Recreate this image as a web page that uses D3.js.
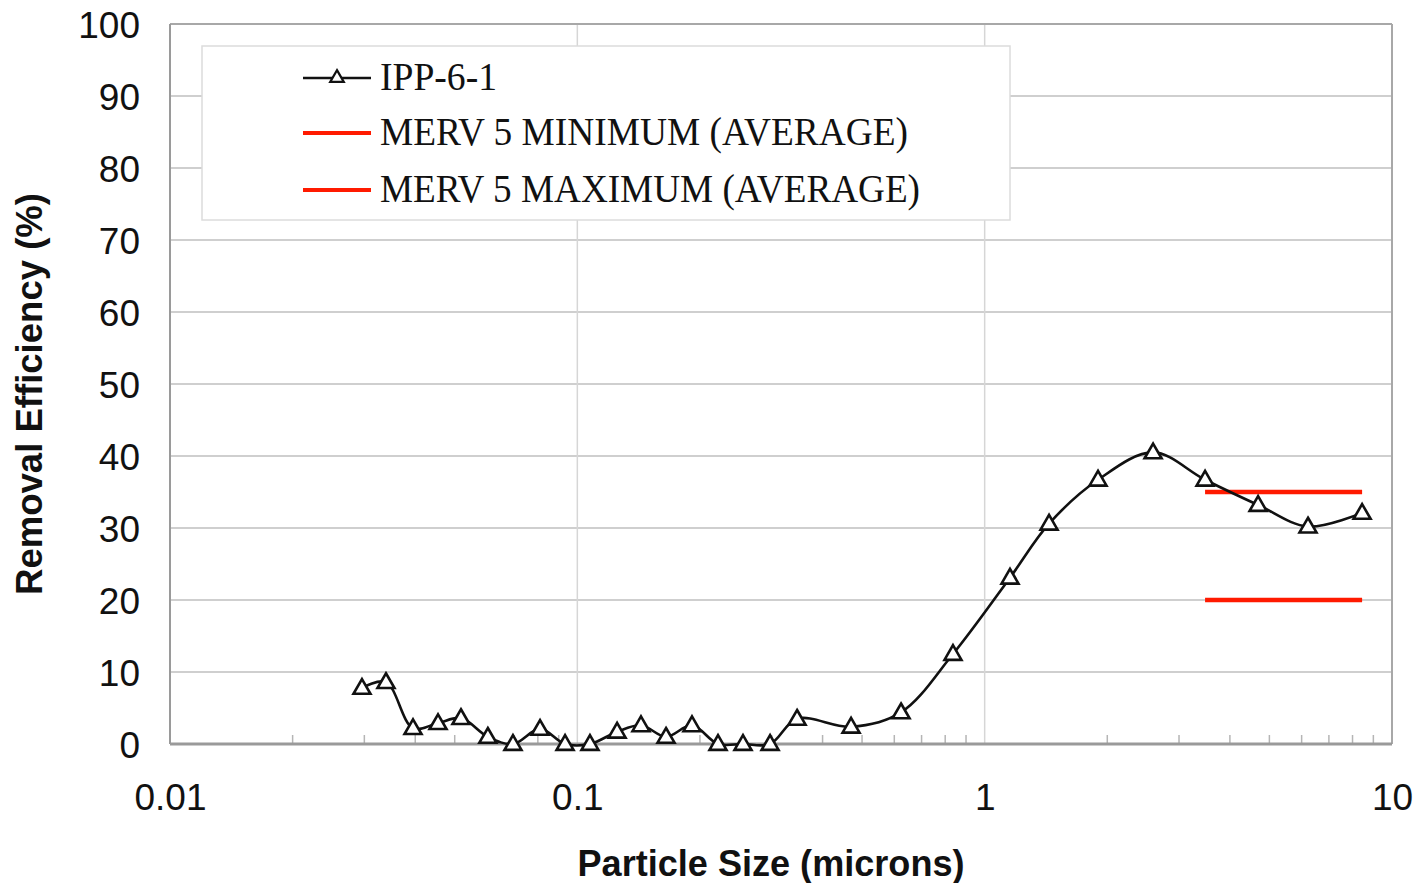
<!DOCTYPE html>
<html>
<head>
<meta charset="utf-8">
<script src="https://cdn.jsdelivr.net/npm/d3@7"></script>
<style>
  html, body { margin: 0; padding: 0; background: #fff; }
  svg { display: block; }
</style>
</head>
<body>
<svg id="chart" width="1418" height="883"></svg>
<script>
// Particle size (microns) and measured removal efficiency (%) for IPP-6-1
const particleSize = [0.0296, 0.0339, 0.0395, 0.0455, 0.0518, 0.0603, 0.0695, 0.081, 0.0933, 0.1074,
  0.1252, 0.1433, 0.1651, 0.1912, 0.2215, 0.2551, 0.2973, 0.3463, 0.4699, 0.6233,
  0.836, 1.154, 1.439, 1.898, 2.591, 3.476, 4.691, 6.22, 8.445];
const efficiency = [7.8, 8.6, 2.2, 2.9, 3.6, 1.0, 0, 2.1, 0, 0,
  1.7, 2.6, 1.0, 2.6, 0, 0, 0, 3.5, 2.4, 4.4,
  12.5, 23.1, 30.6, 36.7, 40.5, 36.7, 33.2, 30.2, 32.1];

// MERV 5 reference levels across the large-particle range
const mervSize = [3.476, 8.445];
const mervMin = [20, 20];
const mervMax = [35, 35];

const yTicks = [0, 10, 20, 30, 40, 50, 60, 70, 80, 90, 100];
const xTicks = [0.01, 0.1, 1, 10];
const xTickLabels = ["0.01", "0.1", "1", "10"];
const legendLabels = ["IPP-6-1", "MERV 5 MINIMUM (AVERAGE)", "MERV 5 MAXIMUM (AVERAGE)"];

const svg = d3.select("#chart");
const m = { left: 170, right: 1392, top: 24, bottom: 744 };

const x = d3.scaleLog().domain([0.01, 10]).range([m.left, m.right]);
const y = d3.scaleLinear().domain([0, 100]).range([m.bottom, m.top]);

const sans = "'Liberation Sans', Arial, sans-serif";
const serif = "'Liberation Serif', 'Times New Roman', serif";

// horizontal gridlines
svg.append("g").selectAll("line").data(yTicks.filter(d => d > 0)).join("line")
  .attr("x1", m.left).attr("x2", m.right)
  .attr("y1", d => y(d)).attr("y2", d => y(d))
  .attr("stroke", "#cfcfcf").attr("stroke-width", 2);

// vertical gridlines at decades
svg.append("g").selectAll("line").data([0.1, 1]).join("line")
  .attr("x1", d => x(d)).attr("x2", d => x(d))
  .attr("y1", m.top).attr("y2", m.bottom)
  .attr("stroke", "#d6d6d6").attr("stroke-width", 1.5);

// plot frame
svg.append("line").attr("x1", m.left).attr("x2", m.right).attr("y1", m.top).attr("y2", m.top)
  .attr("stroke", "#a8a8a8").attr("stroke-width", 2);
svg.append("line").attr("x1", m.right).attr("x2", m.right).attr("y1", m.top).attr("y2", m.bottom)
  .attr("stroke", "#a8a8a8").attr("stroke-width", 2);
svg.append("line").attr("x1", m.left).attr("x2", m.left).attr("y1", m.top).attr("y2", m.bottom)
  .attr("stroke", "#9a9a9a").attr("stroke-width", 2);

// minor ticks on the log axis (pointing inward)
const minor = [];
[0.01, 0.1, 1].forEach(dec => { for (let k = 2; k <= 9; k++) minor.push(dec * k); });
svg.append("g").selectAll("line").data(minor).join("line")
  .attr("x1", d => x(d)).attr("x2", d => x(d))
  .attr("y1", m.bottom).attr("y2", m.bottom - 9)
  .attr("stroke", "#b5b5b5").attr("stroke-width", 1.5);

// bottom axis line
svg.append("line").attr("x1", m.left).attr("x2", m.right).attr("y1", m.bottom).attr("y2", m.bottom)
  .attr("stroke", "#9a9a9a").attr("stroke-width", 3);

// y tick labels
const yAxis = d3.axisLeft(y).tickValues(yTicks).tickSize(0).tickPadding(30).tickFormat(d3.format("d"));
const gy = svg.append("g").attr("transform", `translate(${m.left},0)`).call(yAxis);
gy.select(".domain").remove();
gy.selectAll("text").attr("font-family", sans).attr("font-size", 37).attr("fill", "#111")
  .attr("dy", "0.36em");

// x tick labels
const xAxis = d3.axisBottom(x).tickValues(xTicks).tickSize(0).tickPadding(40)
  .tickFormat((d, i) => xTickLabels[i]);
const gx = svg.append("g").attr("transform", `translate(0,${m.bottom})`).call(xAxis);
gx.select(".domain").remove();
gx.selectAll("text").attr("font-family", sans).attr("font-size", 37).attr("fill", "#111");

// axis titles
svg.append("text").attr("x", 771).attr("y", 876).attr("text-anchor", "middle")
  .attr("font-family", sans).attr("font-weight", "bold").attr("font-size", 36).attr("fill", "#111")
  .attr("textLength", 387).attr("lengthAdjust", "spacingAndGlyphs")
  .text("Particle Size (microns)");
svg.append("text").attr("transform", "translate(42,394) rotate(-90)").attr("text-anchor", "middle")
  .attr("font-family", sans).attr("font-weight", "bold").attr("font-size", 36).attr("fill", "#111")
  .attr("textLength", 402).attr("lengthAdjust", "spacingAndGlyphs")
  .text("Removal Efficiency (%)");

// MERV 5 reference lines
const mervLine = d3.line().x(d => x(d[0])).y(d => y(d[1]));
[mervMin, mervMax].forEach(vals => {
  svg.append("path").datum(mervSize.map((s, i) => [s, vals[i]]))
    .attr("d", mervLine).attr("fill", "none").attr("stroke", "#ff1a00").attr("stroke-width", 4.5);
});

// measured efficiency curve (smoothed)
const pts = particleSize.map((s, i) => [s, efficiency[i]]);
const curve = d3.line().x(d => x(d[0])).y(d => y(d[1])).curve(d3.curveCatmullRom.alpha(0.5));
svg.append("path").datum(pts).attr("d", curve)
  .attr("fill", "none").attr("stroke", "#111").attr("stroke-width", 2.6);

const tri = d3.symbol().type(d3.symbolTriangle).size(125);
svg.append("g").selectAll("path").data(pts).join("path")
  .attr("transform", d => `translate(${x(d[0])},${y(d[1]) + 1})`)
  .attr("d", tri).attr("fill", "#fff").attr("stroke", "#111").attr("stroke-width", 2.6);

// legend
const lg = svg.append("g");
lg.append("rect").attr("x", 202).attr("y", 46).attr("width", 808).attr("height", 174)
  .attr("fill", "#fff").attr("stroke", "#dcdcdc").attr("stroke-width", 1.5);
const rows = [78, 133, 190];
const widths = [117, 528, 540];
legendLabels.forEach((lab, i) => {
  const ry = rows[i];
  lg.append("line").attr("x1", 303).attr("x2", 371).attr("y1", ry).attr("y2", ry)
    .attr("stroke", i === 0 ? "#111" : "#ff1a00").attr("stroke-width", i === 0 ? 2.4 : 4);
  if (i === 0) {
    lg.append("path").attr("transform", `translate(337,${ry})`)
      .attr("d", d3.symbol().type(d3.symbolTriangle).size(80))
      .attr("fill", "#fff").attr("stroke", "#111").attr("stroke-width", 2.2);
  }
  lg.append("text").attr("x", 380).attr("y", ry + 12)
    .attr("font-family", serif).attr("font-size", 40).attr("fill", "#111")
    .attr("textLength", widths[i]).attr("lengthAdjust", "spacingAndGlyphs")
    .text(lab);
});
</script>
</body>
</html>
